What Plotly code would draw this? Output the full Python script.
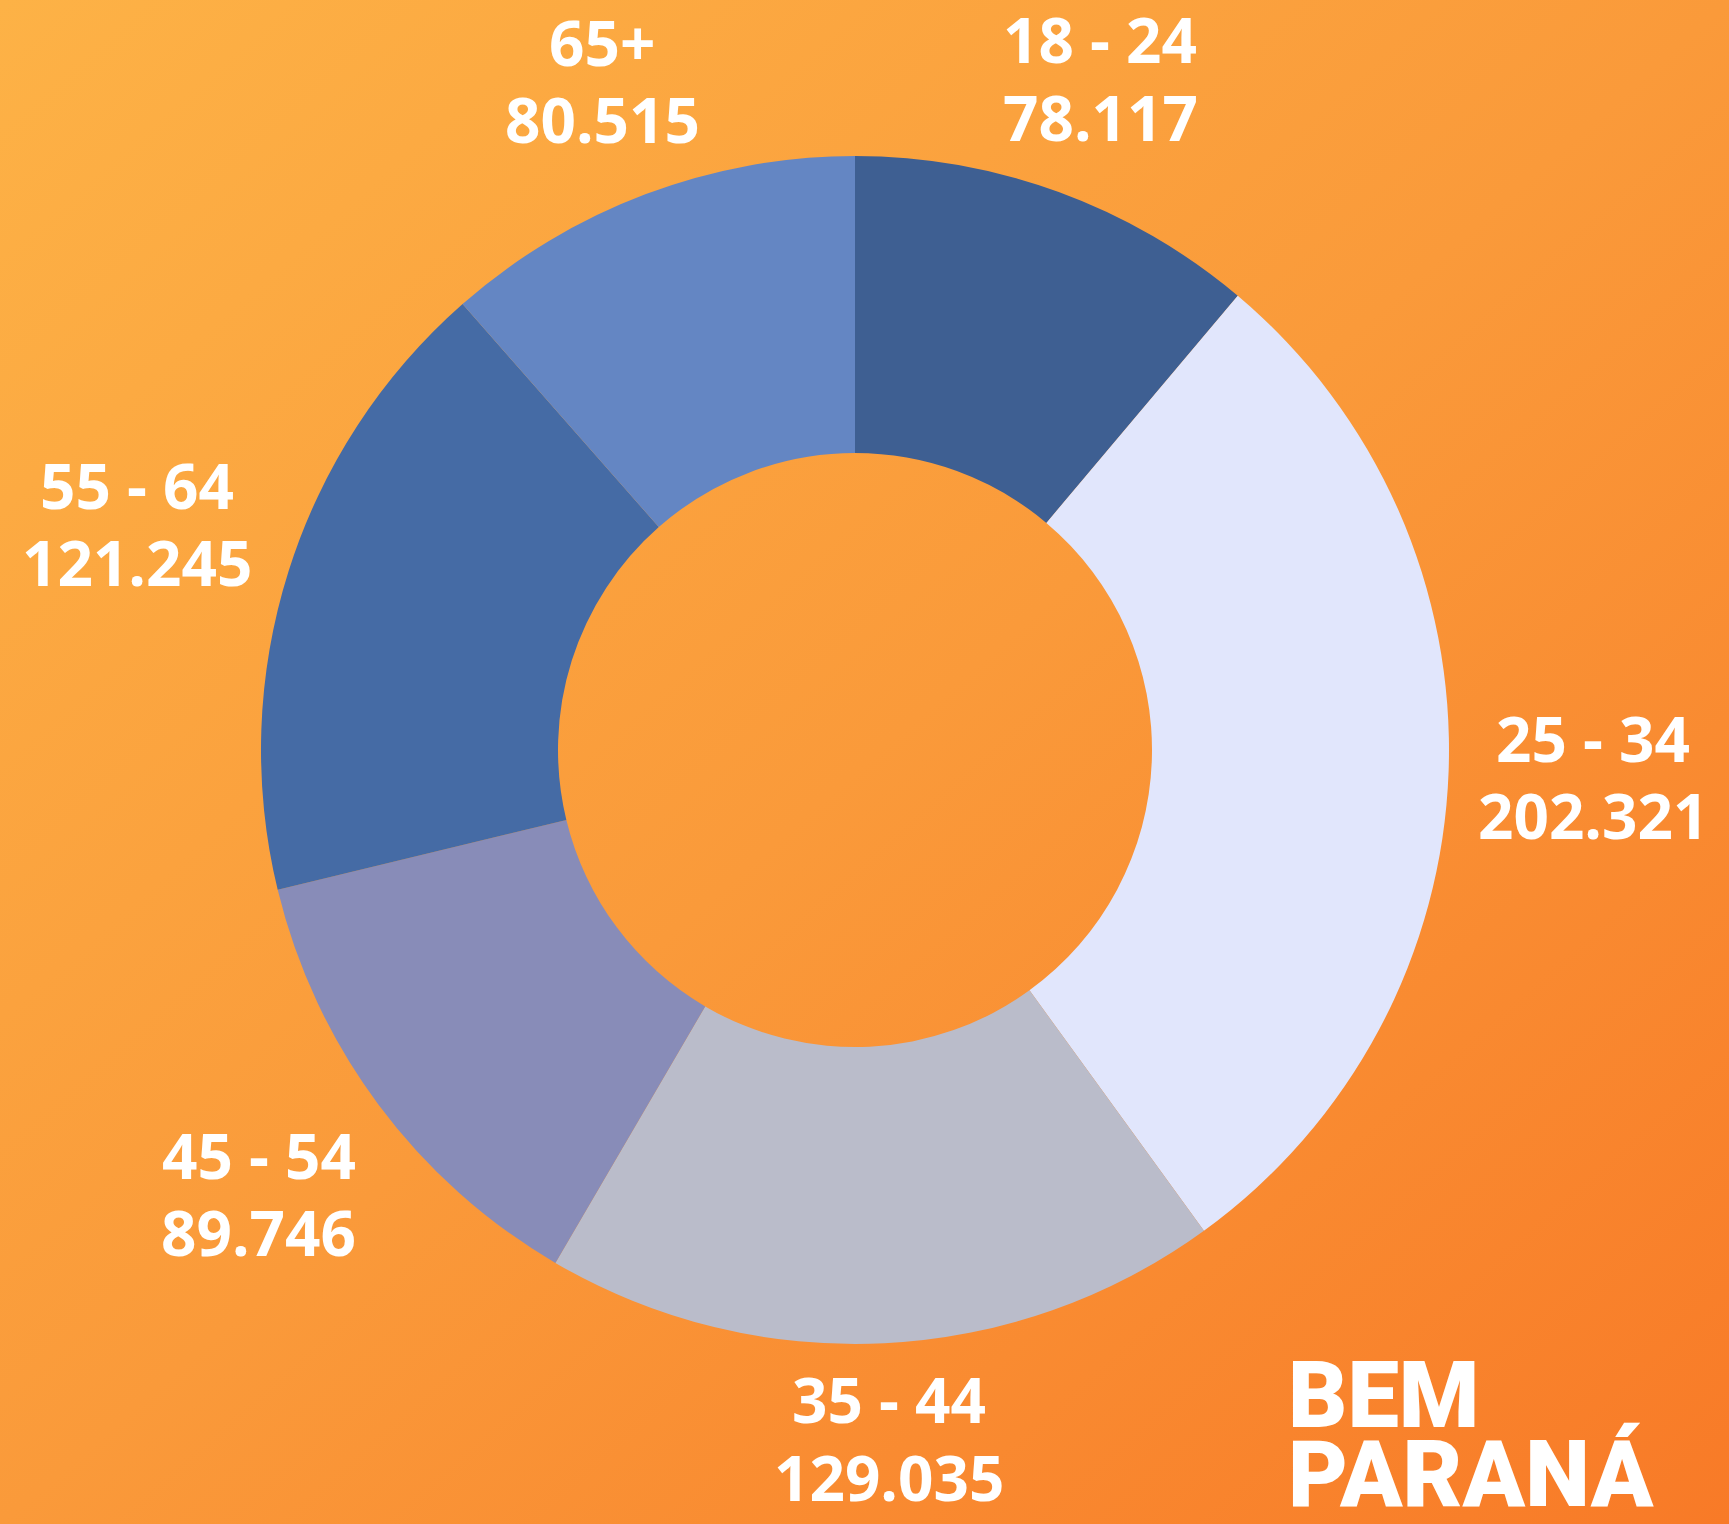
import base64
import math
import plotly.graph_objects as go

labels = ["18 - 24", "25 - 34", "35 - 44", "45 - 54", "55 - 64", "65+"]
values = [78117, 202321, 129035, 89746, 121245, 80515]
value_text = ["78.117", "202.321", "129.035", "89.746", "121.245", "80.515"]
colors = ["#3E5F92", "#E1E6FC", "#BABCCA", "#888CB8", "#456BA5", "#6486C3"]
# label distance from centre, as a multiple of the outer radius (layout only)
label_dist = [1.204, 1.244, 1.160, 1.251, 1.268, 1.205]

W, H = 1729, 1524
dom_x = [261 / W, 1449 / W]
dom_y = [180 / H, 1368 / H]

svg = f'''<svg xmlns="http://www.w3.org/2000/svg" width="{W}" height="{H}" viewBox="0 0 {W} {H}" preserveAspectRatio="none">
<defs><linearGradient id="g" x1="0" y1="0" x2="1" y2="1">
<stop offset="0" stop-color="#FDB246"/><stop offset="0.5" stop-color="#FA9A3A"/><stop offset="1" stop-color="#F87A27"/>
</linearGradient></defs><rect width="{W}" height="{H}" fill="url(#g)"/></svg>'''
src = "data:image/svg+xml;base64," + base64.b64encode(svg.encode()).decode()

fig = go.Figure(go.Pie(
    labels=labels, values=values, sort=False, direction="clockwise", rotation=0,
    hole=0.5, marker=dict(colors=colors, line=dict(width=0)),
    textinfo="none", hoverinfo="label+value", showlegend=False,
    domain=dict(x=dom_x, y=dom_y),
))

# label positions from slice angles
cx = (dom_x[0] + dom_x[1]) / 2 * W
cy = (dom_y[0] + dom_y[1]) / 2 * H  # from bottom
R = min((dom_x[1] - dom_x[0]) * W, (dom_y[1] - dom_y[0]) * H) / 2
total = sum(values)
annotations = []
cum = 0
line_gap = 77.5
lab_font = dict(family="Open Sans", size=62, color="white", weight="bold")
for lab, v, vt, d in zip(labels, values, value_text, label_dist):
    mid = (cum + v / 2) / total * 2 * math.pi
    cum += v
    px = cx + d * R * math.sin(mid)
    py = cy + d * R * math.cos(mid)
    for txt, off in ((lab, line_gap / 2), (vt, -line_gap / 2)):
        annotations.append(dict(text=txt, x=px / W, y=(py + off) / H, xref="paper", yref="paper",
                                xanchor="center", yanchor="middle", showarrow=False, font=lab_font))

logo_font = dict(family="Roboto", size=92, color="white", weight=900)
annotations += [
    dict(text="BEM", x=1286 / W, y=1 - 1395 / H, xref="paper", yref="paper",
         xanchor="left", yanchor="middle", showarrow=False, font=logo_font),
    dict(text="PARANÁ", x=1286 / W, y=1 - 1474.5 / H, xref="paper", yref="paper",
         xanchor="left", yanchor="middle", showarrow=False, font=logo_font),
]

fig.update_layout(
    width=W, height=H, margin=dict(l=0, r=0, t=0, b=0),
    paper_bgcolor="#FA9A3A", plot_bgcolor="rgba(0,0,0,0)",
    images=[dict(source=src, xref="paper", yref="paper", x=0, y=1, sizex=1, sizey=1,
                 xanchor="left", yanchor="top", sizing="stretch", layer="below")],
    annotations=annotations,
)

fig.write_html("out.html", config={"displayModeBar": False},
               post_script="document.body.style.margin='0';")
